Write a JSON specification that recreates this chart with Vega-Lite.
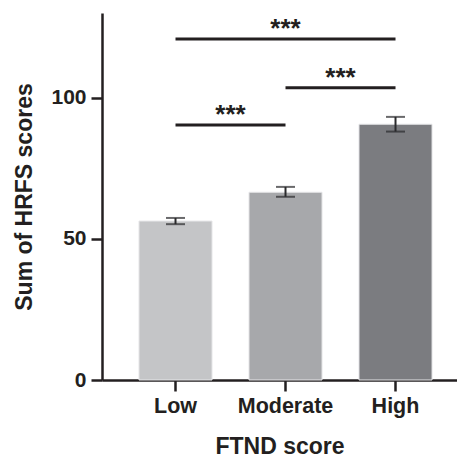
{
  "$schema": "https://vega.github.io/schema/vega-lite/v6.json",
  "width": 355,
  "height": 367,
  "autosize": "none",
  "padding": {"left": 102, "top": 13, "right": 0, "bottom": 78},
  "background": "white",
  "config": {
    "view": {"stroke": null},
    "font": "Liberation Sans"
  },
  "datasets": {
    "bars": [
      {"group": "Low", "mean": 56.3, "lo": 55.2, "hi": 57.4},
      {"group": "Moderate", "mean": 66.5, "lo": 64.9, "hi": 68.4},
      {"group": "High", "mean": 90.6, "lo": 88.0, "hi": 93.2}
    ],
    "sig": [
      {"from": "Low", "to": "Moderate", "mid": "Low", "kind": "adjacent", "y": 90.3, "label": "***"},
      {"from": "Moderate", "to": "High", "mid": "Moderate", "kind": "adjacent", "y": 103.5, "label": "***"},
      {"from": "Low", "to": "High", "mid": "Moderate", "kind": "wide", "y": 120.8, "label": "***"}
    ]
  },
  "layer": [
    {
      "data": {"name": "bars"},
      "mark": {"type": "bar", "stroke": "#e6e6e8", "strokeWidth": 1},
      "encoding": {
        "x": {
          "field": "group", "type": "nominal",
          "scale": {"domain": ["Low", "Moderate", "High"], "paddingInner": 0.336, "paddingOuter": 0.2816, "align": 0.597},
          "axis": {
            "title": "FTND score", "labelAngle": 0,
            "labelFont": "Liberation Sans", "labelFontSize": 21.5, "labelFontWeight": "bold", "labelColor": "#231f20",
            "labelPadding": 4,
            "titleFont": "Liberation Sans", "titleFontSize": 23, "titleFontWeight": "bold", "titleColor": "#231f20",
            "titlePadding": 19,
            "domainColor": "#231f20", "domainWidth": 2.5,
            "tickColor": "#231f20", "tickWidth": 2.5, "tickSize": 11
          }
        },
        "y": {
          "field": "mean", "type": "quantitative",
          "scale": {"domain": [0, 130], "nice": false},
          "axis": {
            "title": "Sum of HRFS scores", "values": [0, 50, 100], "grid": false,
            "labelFont": "Liberation Sans", "labelFontSize": 21, "labelFontWeight": "bold", "labelColor": "#231f20",
            "labelPadding": 5,
            "titleFont": "Liberation Sans", "titleFontSize": 23, "titleFontWeight": "bold", "titleColor": "#231f20",
            "titlePadding": 14,
            "domainColor": "#231f20", "domainWidth": 2.5,
            "tickColor": "#231f20", "tickWidth": 2.5, "tickSize": 11
          }
        },
        "color": {
          "field": "group", "type": "nominal",
          "scale": {"domain": ["Low", "Moderate", "High"], "range": ["#c4c5c7", "#a7a8ab", "#7b7c80"]},
          "legend": null
        }
      }
    },
    {
      "data": {"name": "bars"},
      "mark": {"type": "rule", "color": "#2a2a2c", "strokeWidth": 2},
      "encoding": {
        "x": {"field": "group", "type": "nominal"},
        "y": {"field": "lo", "type": "quantitative"},
        "y2": {"field": "hi"}
      }
    },
    {
      "data": {"name": "bars"},
      "mark": {"type": "tick", "color": "#2a2a2c", "thickness": 2, "size": 19},
      "encoding": {
        "x": {"field": "group", "type": "nominal"},
        "y": {"field": "lo", "type": "quantitative"}
      }
    },
    {
      "data": {"name": "bars"},
      "mark": {"type": "tick", "color": "#2a2a2c", "thickness": 2, "size": 19},
      "encoding": {
        "x": {"field": "group", "type": "nominal"},
        "y": {"field": "hi", "type": "quantitative"}
      }
    },
    {
      "data": {"name": "sig"},
      "mark": {"type": "rule", "color": "#231f20", "strokeWidth": 3},
      "encoding": {
        "x": {"field": "from", "type": "nominal"},
        "x2": {"field": "to"},
        "y": {"field": "y", "type": "quantitative"}
      }
    },
    {
      "data": {"name": "sig"},
      "transform": [{"filter": "datum.kind === 'adjacent'"}],
      "mark": {"type": "text", "color": "#231f20", "font": "Liberation Sans", "fontSize": 26, "fontWeight": "bold", "baseline": "alphabetic", "align": "center", "dy": -2},
      "encoding": {
        "x": {"field": "mid", "type": "nominal", "bandPosition": 1.2534},
        "y": {"field": "y", "type": "quantitative"},
        "text": {"field": "label"}
      }
    },
    {
      "data": {"name": "sig"},
      "transform": [{"filter": "datum.kind === 'wide'"}],
      "mark": {"type": "text", "color": "#231f20", "font": "Liberation Sans", "fontSize": 26, "fontWeight": "bold", "baseline": "alphabetic", "align": "center", "dy": -2},
      "encoding": {
        "x": {"field": "mid", "type": "nominal"},
        "y": {"field": "y", "type": "quantitative"},
        "text": {"field": "label"}
      }
    }
  ]
}
